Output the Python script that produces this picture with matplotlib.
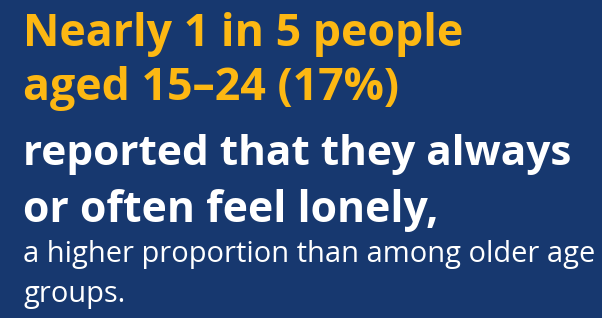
import matplotlib
matplotlib.use('Agg')
import matplotlib.pyplot as plt

# Text content
headline = ['Nearly 1 in 5 people', 'aged 15\u201324 (17%)']
subhead = ['reported that they always', 'or often feel lonely,']
body = ['a higher proportion than among older age', 'groups.']

bg_color = '#17386f'
yellow = '#fdb813'
white = '#ffffff'

W, H = 602, 318
fig = plt.figure(figsize=(W / 100, H / 100), dpi=100)
fig.patch.set_facecolor(bg_color)

x0 = 23
# (text, baseline px, target width px, colour, weight)
lines = [
    (headline[0], 46, 441, yellow, 'bold'),
    (headline[1], 100, 377, yellow, 'bold'),
    (subhead[0], 165, 550, white, 'bold'),
    (subhead[1], 222, 415, white, 'bold'),
    (body[0], 262, 570, white, 'normal'),
    (body[1], 302, None, white, 'normal'),
]

renderer = fig.canvas.get_renderer()
sizes = {}
for txt, base, target, col, weight in lines:
    t = fig.text(x0 / W, 1 - base / H, txt, color=col, fontweight=weight,
                 family='Open Sans', fontsize=30, va='baseline', ha='left')
    if target is not None:
        w = t.get_window_extent(renderer).width
        size = 30 * target / w
        sizes[(weight, col)] = size
    else:
        size = sizes[(weight, col)]
    t.set_fontsize(size)

fig.savefig('out.png', dpi=100, facecolor=bg_color)
